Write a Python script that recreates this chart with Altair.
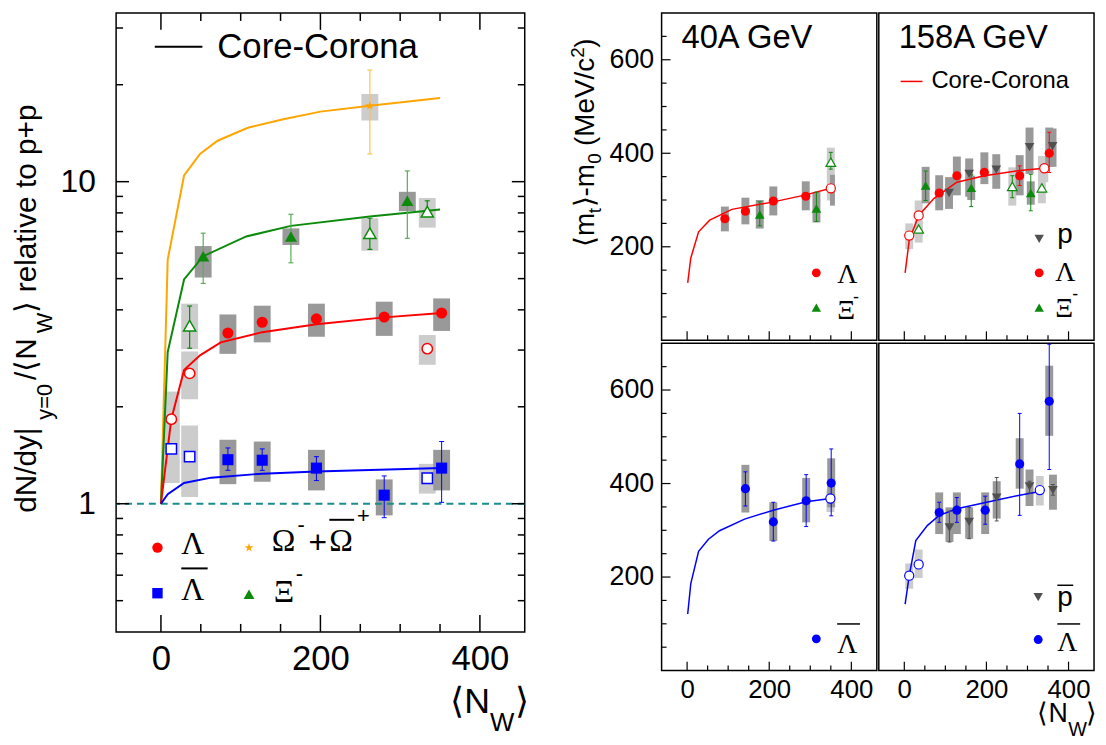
import altair as alt
import pandas as pd

# ======================= LEFT PANEL: dN/dy per <N_W> relative to p+p =======================
LAM_X = [84, 127, 195, 280, 352]
LAM_Y = [3.39, 3.66, 3.75, 3.80, 3.91]
LAM_SYS_LO = [2.92, 3.17, 3.30, 3.32, 3.44]
LAM_SYS_HI = [3.87, 4.12, 4.18, 4.24, 4.34]
LAM_OPEN_X = [13, 36, 334]
LAM_OPEN_Y = [1.83, 2.54, 3.03]
LAM_OPEN_SYS_LO = [1.58, 2.11, 2.70]
LAM_OPEN_SYS_HI = [2.23, 2.97, 3.34]

ALAM_X = [84, 127, 195, 280, 352]
ALAM_Y = [1.37, 1.365, 1.29, 1.063, 1.29]
ALAM_ERR_LO = [1.27, 1.27, 1.18, 0.905, 1.01]
ALAM_ERR_HI = [1.49, 1.48, 1.40, 1.22, 1.56]
ALAM_SYS_LO = [1.15, 1.17, 1.10, 0.92, 1.10]
ALAM_SYS_HI = [1.58, 1.56, 1.47, 1.19, 1.47]
ALAM_OPEN_X = [13, 36, 334]
ALAM_OPEN_Y = [1.48, 1.40, 1.20]
ALAM_OPEN_SYS_LO = [1.16, 1.05, 1.075]
ALAM_OPEN_SYS_HI = [1.76, 1.75, 1.33]

XI_X = [53, 163, 309]
XI_Y = [5.87, 6.76, 8.72]
XI_ERR_LO = [4.83, 5.60, 6.67]
XI_ERR_HI = [6.92, 7.92, 10.8]
XI_SYS_LO = [5.04, 6.36, 8.10]
XI_SYS_HI = [6.31, 7.16, 9.30]
XI_OPEN_X = [36, 262, 334]
XI_OPEN_Y = [3.57, 6.92, 8.07]
XI_OPEN_ERR_LO = [3.04, 6.16, 7.92]
XI_OPEN_ERR_HI = [4.11, 7.70, 8.72]
XI_OPEN_SYS_LO = [3.02, 6.10, 7.20]
XI_OPEN_SYS_HI = [4.18, 7.70, 8.90]

OMEGA_X = [262]
OMEGA_Y = [17.2]
OMEGA_ERR_LO = [12.2]
OMEGA_ERR_HI = [22.2]
OMEGA_SYS_LO = [15.5]
OMEGA_SYS_HI = [18.7]

CC_LAM_X = [0, 13, 29, 49, 75, 127, 195, 280, 352]
CC_LAM_Y = [1.0, 1.83, 2.60, 2.89, 3.17, 3.41, 3.61, 3.79, 3.91]
CC_ALAM_X = [0, 8.5, 29, 63, 127, 195, 352]
CC_ALAM_Y = [1.0, 1.07, 1.16, 1.205, 1.24, 1.26, 1.29]
CC_XI_X = [0, 8.5, 29, 53, 107, 163, 262, 350]
CC_XI_Y = [1.0, 2.96, 4.97, 5.87, 6.76, 7.29, 7.79, 8.2]
CC_OM_X = [0, 8.5, 29, 49, 71, 109, 152, 200, 262, 350]
CC_OM_Y = [1.0, 5.73, 10.45, 12.2, 13.4, 14.7, 15.6, 16.5, 17.2, 18.2]
PP_REF = [1.0]

# ======================= RIGHT PANELS: <m_t>-m_0 =======================
# 40A GeV, baryons
LAM40_X = [92, 142, 210, 289]
LAM40_Y = [260, 276, 298, 308]
LAM40_SYS_LO = [233, 248, 267, 278]
LAM40_SYS_HI = [286, 305, 329, 340]
LAM40_OPEN_X = [350]
LAM40_OPEN_Y = [325]
LAM40_OPEN_SYS_LO = [288]
LAM40_OPEN_SYS_HI = [354]
XI40_X = [177, 315]
XI40_Y = [269, 282]
XI40_ERR_LO = [245, 254]
XI40_ERR_HI = [296, 317]
XI40_SYS_LO = [239, 252]
XI40_SYS_HI = [300, 317]
XI40_OPEN_X = [350]
XI40_OPEN_Y = [381]
XI40_OPEN_ERR_LO = [366]
XI40_OPEN_ERR_HI = [402]
XI40_OPEN_SYS_LO = [299]
XI40_OPEN_SYS_HI = [412]
CC40_X = [1.5, 9, 28, 55, 109, 210, 289, 350]
CC40_Y = [123, 176, 232, 257, 280, 296, 311, 325]

# 158A GeV, baryons
LAM158_X = [85, 128, 195, 281, 353]
LAM158_Y = [315, 352, 359, 352, 400]
LAM158_SYS_LO = [278, 310, 334, 310, 371]
LAM158_SYS_HI = [353, 393, 402, 396, 455]
LAM158_ERR_X = [281, 353]
LAM158_ERR_LO = [331, 359]
LAM158_ERR_HI = [373, 445]
LAM158_OPEN_X = [12, 35, 341]
LAM158_OPEN_Y = [224, 267, 368]
LAM158_OPEN_SYS_LO = [195, 222, 338]
LAM158_OPEN_SYS_HI = [250, 299, 394]
P158_X = [109, 158, 224, 305, 361]
P158_Y = [315, 356, 365, 413, 415]
P158_SYS_LO = [281, 307, 324, 356, 371]
P158_SYS_HI = [349, 389, 398, 455, 453]
XI158_X = [52, 163, 308]
XI158_Y = [331, 326, 315]
XI158_ERR_LO = [299, 286, 277]
XI158_ERR_HI = [362, 354, 355]
XI158_SYS_LO = [293, 300, 290]
XI158_SYS_HI = [371, 352, 340]
XI158_OPEN_X = [35, 263, 335]
XI158_OPEN_Y = [238, 329, 326]
XI158_OPEN_SYS_LO = [209, 288, 293]
XI158_OPEN_SYS_HI = [254, 370, 394]
XI158_OPEN_ERR_X = [263]
XI158_OPEN_ERR_LO = [305]
XI158_OPEN_ERR_HI = [352]
CC158_X = [2, 12, 35, 72, 128, 195, 281, 341]
CC158_Y = [144, 214, 267, 303, 338, 352, 363, 368]

# 40A GeV, anti-baryons
ALAM40_X = [142, 210, 290, 351]
ALAM40_Y = [389, 318, 363, 401]
ALAM40_ERR_LO = [352, 277, 308, 331]
ALAM40_ERR_HI = [425, 360, 419, 474]
ALAM40_SYS_LO = [338, 277, 317, 349]
ALAM40_SYS_HI = [440, 360, 412, 454]
ALAM40_OPEN_X = [349]
ALAM40_OPEN_Y = [368]
ALAM40_OPEN_SYS_LO = [339]
ALAM40_OPEN_SYS_HI = [387]
CCA40_X = [1.5, 9, 28, 52, 79, 140, 210, 290, 349]
CCA40_Y = [121, 186, 255, 281, 299, 324, 343, 361, 368]

# 158A GeV, anti-baryons
ALAM158_X = [85, 128, 197, 281, 353]
ALAM158_Y = [338, 343, 343, 442, 576]
ALAM158_ERR_LO = [317, 317, 313, 332, 430]
ALAM158_ERR_HI = [360, 370, 373, 550, 698]
ALAM158_SYS_LO = [292, 292, 292, 389, 502]
ALAM158_SYS_HI = [381, 381, 381, 497, 652]
ALAM158_OPEN_X = [12, 35, 330]
ALAM158_OPEN_Y = [203, 227, 386]
ALAM158_OPEN_SYS_LO = [175, 198, 353]
ALAM158_OPEN_SYS_HI = [229, 259, 416]
PBAR158_X = [110, 158, 225, 305, 362]
PBAR158_Y = [306, 318, 370, 394, 386]
PBAR158_ERR_LO = [275, 282, 320, 380, 375]
PBAR158_ERR_HI = [341, 349, 413, 405, 398]
PBAR158_SYS_LO = [275, 282, 325, 352, 344]
PBAR158_SYS_HI = [349, 349, 405, 430, 419]
CCA158_X = [2, 12, 28, 56, 85, 128, 195, 281, 330]
CCA158_Y = [142, 203, 278, 310, 332, 346, 359, 375, 383]

# tick values
LX_MAJOR = [0, 200, 400]
LX_MINOR = [50, 100, 150, 250, 300, 350]
LY_MAJOR = [1, 10]
LY_MINOR = [0.5, 0.6, 0.7, 0.8, 0.9, 2, 3, 4, 5, 6, 7, 8, 9, 20, 30]
RX_MAJOR = [0, 200, 400]
RX_MINOR = [50, 100, 150, 250, 300, 350]
RY_MAJOR = [200, 400, 600]
RY_MINOR = [50, 100, 150, 250, 300, 350, 450, 500, 550, 650]

# ======================= styling =======================
FONT = "Liberation Sans"
SERIF = "Liberation Serif"
RED = "#ff0000"
BLUE = "#0000ff"
GREEN = "#0b8a0b"
GREEN_ERR = "#5aab5a"
ORANGE = "#ffa500"
ORANGE_ERR = "#ffc24d"
GREY_M = "#505050"
BOX_D = "#999999"
BOX_L = "#cccccc"
TEAL = "#1a8c8c"
STAR = ("M0,-1L0.2245,-0.309L0.951,-0.309L0.363,0.118L0.588,0.809L0,0.382"
        "L-0.588,0.809L-0.363,0.118L-0.951,-0.309L-0.2245,-0.309Z")
ONE = pd.DataFrame({"k": [0]})


class Panel:
    def __init__(self, xs, ys, xax, yax, W, H):
        self.xs, self.ys, self.xax, self.yax = xs, ys, xax, yax
        self.W, self.H = W, H
        self.layers = []

    def X(self, f):
        return alt.X(f + ":Q", scale=self.xs, axis=self.xax)

    def Y(self, f):
        return alt.Y(f + ":Q", scale=self.ys, axis=self.yax)

    def boxes(self, x, lo, hi, color, width):
        df = pd.DataFrame({"x": x, "lo": lo, "hi": hi})
        self.layers.append(alt.Chart(df).mark_bar(size=width, color=color, opacity=1).encode(
            x=self.X("x"), y=self.Y("lo"), y2="hi:Q"))

    def hline(self, vals, color, sw, dash):
        df = pd.DataFrame({"v": vals})
        self.layers.append(alt.Chart(df).mark_rule(color=color, strokeWidth=sw, strokeDash=dash).encode(
            y=self.Y("v")))

    def curve(self, x, y, color, sw):
        df = pd.DataFrame({"x": x, "y": y})
        self.layers.append(alt.Chart(df).mark_line(color=color, strokeWidth=sw).encode(
            x=self.X("x"), y=self.Y("y")))

    def err(self, x, lo, hi, color, sw=1.0, cap=5):
        df = pd.DataFrame({"x": x, "lo": lo, "hi": hi})
        self.layers.append(alt.Chart(df).mark_rule(color=color, strokeWidth=sw).encode(
            x=self.X("x"), y=self.Y("lo"), y2="hi:Q"))
        cdf = pd.DataFrame({"x": list(x) + list(x), "y": list(lo) + list(hi)})
        self.layers.append(alt.Chart(cdf).mark_tick(orient="horizontal", size=cap, thickness=sw,
                                                     color=color, opacity=1).encode(
            x=self.X("x"), y=self.Y("y")))

    def pts(self, x, y, shape, color, size, hollow=False, sw=1.5):
        df = pd.DataFrame({"x": x, "y": y})
        if hollow:
            m = alt.Chart(df).mark_point(shape=shape, filled=True, fill="white", stroke=color,
                                         strokeWidth=sw, size=size, opacity=1)
        else:
            m = alt.Chart(df).mark_point(shape=shape, filled=True, color=color, size=size, opacity=1)
        self.layers.append(m.encode(x=self.X("x"), y=self.Y("y")))

    def xticks(self, vals, L, top=False, sw=1.2):
        df = pd.DataFrame({"v": vals})
        self.layers.append(alt.Chart(df).mark_rule(color="black", strokeWidth=sw).encode(
            x=self.X("v"), y=alt.value(self.H), y2=alt.value(self.H - L)))
        if top:
            self.layers.append(alt.Chart(df).mark_rule(color="black", strokeWidth=sw).encode(
                x=self.X("v"), y=alt.value(0), y2=alt.value(L)))

    def yticks(self, vals, L, right=False, sw=1.2):
        df = pd.DataFrame({"v": vals})
        self.layers.append(alt.Chart(df).mark_rule(color="black", strokeWidth=sw).encode(
            y=self.Y("v"), x=alt.value(0), x2=alt.value(L)))
        if right:
            self.layers.append(alt.Chart(df).mark_rule(color="black", strokeWidth=sw).encode(
                y=self.Y("v"), x=alt.value(self.W - L), x2=alt.value(self.W)))

    def text(self, s, x, y, size, font=FONT, color="black", angle=0, baseline="alphabetic",
             opacity=1.0, align="left"):
        self.layers.append(alt.Chart(ONE).mark_text(
            text=s, fontSize=size, font=font, color=color, angle=angle, baseline=baseline,
            align=align, opacity=opacity).encode(x=alt.value(x), y=alt.value(y)))

    def seg(self, x1, x2, y, color="black", sw=1.5):
        self.layers.append(alt.Chart(ONE).mark_rule(color=color, strokeWidth=sw).encode(
            x=alt.value(x1), x2=alt.value(x2), y=alt.value(y)))

    def marker(self, x, y, shape, color, size):
        self.layers.append(alt.Chart(ONE).mark_point(shape=shape, filled=True, color=color,
                                                     size=size, opacity=1).encode(
            x=alt.value(x), y=alt.value(y)))

    def chart(self):
        return alt.layer(*self.layers).properties(width=self.W, height=self.H)


def axis(values, size, pad, fmt="d"):
    return alt.Axis(values=values, title=None, labelFontSize=size, labelPadding=pad, format=fmt,
                    ticks=False, tickSize=0, domain=False, grid=False, labelFont=FONT,
                    labelColor="black", labelOverlap=False, labelFlush=False)


# ======================= LEFT PANEL =======================
WL, HL = 412, 624
xsL = alt.Scale(domain=[-50, 450], nice=False, zero=False)
ysL = alt.Scale(type="log", domain=[0.4, 33.4], nice=False)
P = Panel(xsL, ysL, axis(LX_MAJOR, 35, 10), axis(LY_MAJOR, 32, 21), WL, HL)

P.boxes(LAM_OPEN_X, LAM_OPEN_SYS_LO, LAM_OPEN_SYS_HI, BOX_L, 17)
P.boxes(ALAM_OPEN_X, ALAM_OPEN_SYS_LO, ALAM_OPEN_SYS_HI, BOX_L, 17)
P.boxes(XI_OPEN_X, XI_OPEN_SYS_LO, XI_OPEN_SYS_HI, BOX_L, 17)
P.boxes(OMEGA_X, OMEGA_SYS_LO, OMEGA_SYS_HI, BOX_L, 17)
P.boxes(LAM_X, LAM_SYS_LO, LAM_SYS_HI, BOX_D, 17)
P.boxes(ALAM_X, ALAM_SYS_LO, ALAM_SYS_HI, BOX_D, 17)
P.boxes(XI_X, XI_SYS_LO, XI_SYS_HI, BOX_D, 17)
P.hline(PP_REF, TEAL, 2, [7, 5])
P.curve(CC_OM_X, CC_OM_Y, ORANGE, 2)
P.curve(CC_XI_X, CC_XI_Y, GREEN, 2)
P.curve(CC_LAM_X, CC_LAM_Y, RED, 2)
P.curve(CC_ALAM_X, CC_ALAM_Y, BLUE, 2)
P.err(OMEGA_X, OMEGA_ERR_LO, OMEGA_ERR_HI, ORANGE_ERR, 1.2, 5)
P.err(XI_X, XI_ERR_LO, XI_ERR_HI, GREEN_ERR, 1.2, 5)
P.err(XI_OPEN_X, XI_OPEN_ERR_LO, XI_OPEN_ERR_HI, GREEN, 1.2, 5)
P.err(ALAM_X, ALAM_ERR_LO, ALAM_ERR_HI, BLUE, 1.0, 5)
P.pts(OMEGA_X, OMEGA_Y, STAR, ORANGE, 90)
P.pts(XI_X, XI_Y, "triangle-up", GREEN, 150)
P.pts(XI_OPEN_X, XI_OPEN_Y, "triangle-up", GREEN, 150, hollow=True)
P.pts(LAM_X, LAM_Y, "circle", RED, 125)
P.pts(LAM_OPEN_X, LAM_OPEN_Y, "circle", RED, 110, hollow=True)
P.pts(ALAM_X, ALAM_Y, "square", BLUE, 125)
P.pts(ALAM_OPEN_X, ALAM_OPEN_Y, "square", BLUE, 110, hollow=True)
P.xticks(LX_MAJOR, 17, top=True, sw=1.5)
P.xticks(LX_MINOR, 8, top=True, sw=1.5)
P.yticks(LY_MAJOR, 13, right=True, sw=1.5)
P.yticks(LY_MINOR, 7, right=True, sw=1.5)
# legend
P.seg(39, 87, 34, "black", 2)
P.text("Core-Corona", 102, 34, 35, baseline="middle")
P.marker(41.7, 539, "circle", RED, 110)
P.marker(41.7, 585, "square", BLUE, 110)
P.marker(134, 539, STAR, ORANGE, 90)
P.marker(134, 586, "triangle-up", GREEN, 120)
P.text("Λ", 65.7, 545, 32, font=SERIF)
P.text("Λ", 65.7, 592, 32, font=SERIF)
P.seg(65.7, 92.3, 560, "black", 2)
P.text("Ω", 157, 542, 32, font=SERIF)
P.text("-", 183, 523, 22)
P.text("+", 194, 544, 32)
P.text("Ω", 215, 542, 32, font=SERIF)
P.seg(215, 240, 511, "black", 2)
P.text("+", 243, 514, 22)
P.text("Ξ", 159, 594, 32, font=SERIF)
P.text("-", 181, 573, 22)
# y title (rotated, pieces with subscripts)
P.text("dN/dy|", -81, 504, 30, angle=270)
P.text("y=0", -65, 410, 22, angle=270)
P.text("/⟨N", -81, 370, 30, angle=270)
P.text("W", -65, 323, 22, angle=270)
P.text("⟩ relative to p+p", -81, 302, 30, angle=270)
# x title
P.text("⟨N", 337, 706, 36)
P.text("W", 377, 724, 26)
P.text("⟩", 402, 706, 36)
left = P.chart()

# ======================= RIGHT PANELS =======================
WR, HR = 217, 330
xsR = alt.Scale(domain=[-50, 450], nice=False, zero=False)
ysR = alt.Scale(domain=[0, 700], nice=False, zero=False)
YAX_R = axis(RY_MAJOR, 27, 8)
XAX_R = axis(RX_MAJOR, 26, 6)


def right_ticks(p, with_y):
    p.xticks(RX_MAJOR, 9)
    p.xticks(RX_MINOR, 5)
    if with_y:
        p.yticks(RY_MAJOR, 9)
        p.yticks(RY_MINOR, 5)


def ytitle(p, op):
    p.text("⟨m", -68, 236, 28, angle=270, opacity=op)
    p.text("t", -61, 202, 19, angle=270, opacity=op)
    p.text("⟩-m", -68, 196, 28, angle=270, opacity=op)
    p.text("0", -61, 152, 19, angle=270, opacity=op)
    p.text("(MeV/c", -68, 134, 28, angle=270, opacity=op)
    p.text("2", -78, 45, 19, angle=270, opacity=op)
    p.text(")", -68, 35, 28, angle=270, opacity=op)


# --- top-left: 40A GeV baryons
TL = Panel(xsR, ysR, None, YAX_R, WR, HR)
TL.boxes(XI40_OPEN_X, XI40_OPEN_SYS_LO, XI40_OPEN_SYS_HI, BOX_L, 8)
TL.boxes(LAM40_X, LAM40_SYS_LO, LAM40_SYS_HI, BOX_D, 8)
TL.boxes(XI40_X, XI40_SYS_LO, XI40_SYS_HI, BOX_D, 8)
TL.boxes([x + 4 for x in LAM40_OPEN_X], LAM40_OPEN_SYS_LO, LAM40_OPEN_SYS_HI, BOX_D, 5)
TL.curve(CC40_X, CC40_Y, RED, 1.5)
TL.err(XI40_X, XI40_ERR_LO, XI40_ERR_HI, GREEN, 1.0, 4)
TL.err(XI40_OPEN_X, XI40_OPEN_ERR_LO, XI40_OPEN_ERR_HI, GREEN, 1.0, 4)
TL.pts(LAM40_X, LAM40_Y, "circle", RED, 85)
TL.pts(LAM40_OPEN_X, LAM40_OPEN_Y, "circle", RED, 85, hollow=True, sw=1.2)
TL.pts(XI40_X, XI40_Y, "triangle-up", GREEN, 95)
TL.pts(XI40_OPEN_X, XI40_OPEN_Y, "triangle-up", GREEN, 95, hollow=True, sw=1.2)
right_ticks(TL, True)
TL.text("40A GeV", 20, 35, 33)
TL.marker(156, 262, "circle", RED, 80)
TL.text("Λ", 177, 272, 28, font=SERIF)
TL.marker(156, 297, "triangle-up", GREEN, 90)
TL.text("Ξ", 177, 309, 28, font=SERIF)
TL.text("-", 193, 292, 18)
ytitle(TL, 1.0)

# --- top-right: 158A GeV baryons
TR = Panel(xsR, ysR, None, None, WR, HR)
TR.boxes(LAM158_OPEN_X, LAM158_OPEN_SYS_LO, LAM158_OPEN_SYS_HI, BOX_L, 8)
TR.boxes(XI158_OPEN_X, XI158_OPEN_SYS_LO, XI158_OPEN_SYS_HI, BOX_L, 8)
TR.boxes(P158_X, P158_SYS_LO, P158_SYS_HI, BOX_D, 8)
TR.boxes(LAM158_X, LAM158_SYS_LO, LAM158_SYS_HI, BOX_D, 8)
TR.boxes(XI158_X, XI158_SYS_LO, XI158_SYS_HI, BOX_D, 8)
TR.curve(CC158_X, CC158_Y, RED, 1.5)
TR.err(LAM158_ERR_X, LAM158_ERR_LO, LAM158_ERR_HI, RED, 1.0, 4)
TR.err(XI158_X, XI158_ERR_LO, XI158_ERR_HI, GREEN, 1.0, 4)
TR.err(XI158_OPEN_ERR_X, XI158_OPEN_ERR_LO, XI158_OPEN_ERR_HI, GREEN, 1.0, 4)
TR.pts(P158_X, P158_Y, "triangle-down", GREY_M, 95)
TR.pts(LAM158_X, LAM158_Y, "circle", RED, 85)
TR.pts(LAM158_OPEN_X, LAM158_OPEN_Y, "circle", RED, 85, hollow=True, sw=1.2)
TR.pts(XI158_X, XI158_Y, "triangle-up", GREEN, 95)
TR.pts(XI158_OPEN_X, XI158_OPEN_Y, "triangle-up", GREEN, 95, hollow=True, sw=1.2)
right_ticks(TR, False)
TR.text("158A GeV", 20, 35, 33)
TR.seg(22, 44, 69, RED, 1.5)
TR.text("Core-Corona", 53, 69, 24, baseline="middle")
TR.marker(161.7, 227.7, "triangle-down", GREY_M, 90)
TR.text("p", 180, 232, 28)
TR.marker(161.7, 262, "circle", RED, 80)
TR.text("Λ", 178, 270, 28, font=SERIF)
TR.marker(161.7, 297, "triangle-up", GREEN, 90)
TR.text("Ξ", 178, 307, 28, font=SERIF)
TR.text("-", 195, 289, 18)

# --- bottom-left: 40A GeV anti-baryons
BL = Panel(xsR, ysR, XAX_R, YAX_R, WR, HR)
BL.boxes(ALAM40_OPEN_X, ALAM40_OPEN_SYS_LO, ALAM40_OPEN_SYS_HI, BOX_L, 8)
BL.boxes(ALAM40_X, ALAM40_SYS_LO, ALAM40_SYS_HI, BOX_D, 8)
BL.curve(CCA40_X, CCA40_Y, BLUE, 1.5)
BL.err(ALAM40_X, ALAM40_ERR_LO, ALAM40_ERR_HI, BLUE, 1.0, 4)
BL.pts(ALAM40_X, ALAM40_Y, "circle", BLUE, 85)
BL.pts(ALAM40_OPEN_X, ALAM40_OPEN_Y, "circle", BLUE, 85, hollow=True, sw=1.2)
right_ticks(BL, True)
BL.marker(156, 298, "circle", BLUE, 80)
BL.text("Λ", 177, 312, 28, font=SERIF)
BL.seg(177, 200, 283, "black", 1.5)
ytitle(BL, 0.0)

# --- bottom-right: 158A GeV anti-baryons
BR = Panel(xsR, ysR, XAX_R, None, WR, HR)
BR.boxes(ALAM158_OPEN_X, ALAM158_OPEN_SYS_LO, ALAM158_OPEN_SYS_HI, BOX_L, 8)
BR.boxes(PBAR158_X, PBAR158_SYS_LO, PBAR158_SYS_HI, BOX_D, 8)
BR.boxes(ALAM158_X, ALAM158_SYS_LO, ALAM158_SYS_HI, BOX_D, 8)
BR.curve(CCA158_X, CCA158_Y, BLUE, 1.5)
BR.err(PBAR158_X, PBAR158_ERR_LO, PBAR158_ERR_HI, GREY_M, 1.0, 4)
BR.err(ALAM158_X, ALAM158_ERR_LO, ALAM158_ERR_HI, BLUE, 1.0, 4)
BR.pts(PBAR158_X, PBAR158_Y, "triangle-down", GREY_M, 95)
BR.pts(ALAM158_X, ALAM158_Y, "circle", BLUE, 85)
BR.pts(ALAM158_OPEN_X, ALAM158_OPEN_Y, "circle", BLUE, 85, hollow=True, sw=1.2)
right_ticks(BR, False)
BR.marker(160.7, 256, "triangle-down", GREY_M, 90)
BR.text("p", 180, 265, 28)
BR.seg(180, 196, 244, "black", 1.5)
BR.marker(160.7, 298.7, "circle", BLUE, 80)
BR.text("Λ", 180, 310, 28, font=SERIF)
BR.seg(180, 203, 283, "black", 1.5)
BR.text("⟨N", 160, 382, 27)
BR.text("W", 191, 396, 20)
BR.text("⟩", 209, 382, 27)

right = alt.vconcat(
    alt.hconcat(TL.chart(), TR.chart(), spacing=0),
    alt.hconcat(BL.chart(), BR.chart(), spacing=0),
    spacing=0,
)

chart = alt.hconcat(left, right, spacing=39).properties(
    padding={"left": 3, "top": 0, "right": 0, "bottom": 0}
).configure_view(stroke="black", strokeWidth=1.5).configure_axis(
    ticks=False, domain=False, grid=False, labelFont=FONT, labelColor="black"
)

chart.save("out.html", embed_options={"renderer": "svg", "actions": False})
